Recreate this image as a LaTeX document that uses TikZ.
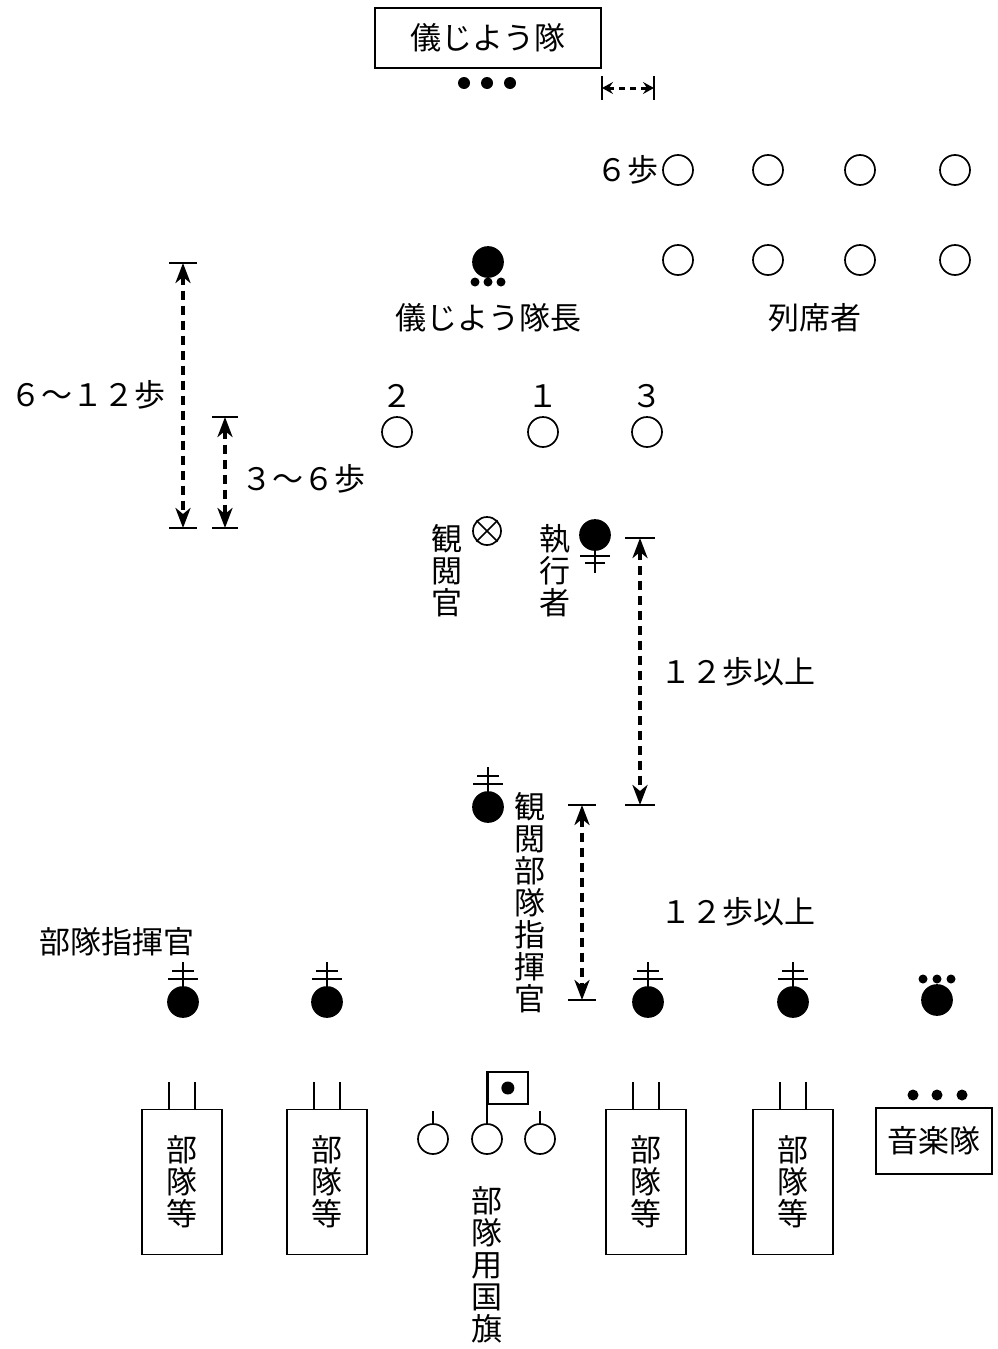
\documentclass[tikz,border=0pt]{standalone}
\usepackage{fontspec}
\setmainfont{Noto Sans CJK JP}
\usetikzlibrary{arrows.meta,positioning}
% commander mark: filled circle with a cross-bar stem on top
\newcommand\cmdmark[2]{%
  \node[leader] (#1) at (#2) {};
  \draw (#1.north) -- ++(0,-24);
  \draw ([shift={(-11,-31)}]#1.center) -- ([shift={(11,-31)}]#1.center);
  \draw ([shift={(-15,-23)}]#1.center) -- ([shift={(15,-23)}]#1.center);}
\begin{document}
\begin{tikzpicture}[x=1pt,y=-1pt,line width=1.7pt,node distance=92pt,
  font=\fontsize{31}{32}\selectfont]
\tikzstyle{person}=[circle,draw,minimum size=30pt,inner sep=0pt]
\tikzstyle{leader}=[person,fill]
\tikzstyle{dot}=[circle,fill,minimum size=12pt,inner sep=0pt]
\tikzstyle{sdot}=[circle,fill,minimum size=9pt,inner sep=0pt]
\tikzstyle{dim}=[line width=3.4pt,dash pattern=on 9pt off 6pt,
  {Stealth[length=20pt,width=15pt,inset=6pt]}-{Stealth[length=20pt,width=15pt,inset=6pt]}]
\tikzstyle{unit}=[draw,minimum width=80pt,minimum height=145pt,align=center,inner sep=0pt]
\tikzstyle{tate}=[align=center,inner sep=0pt]
\useasboundingbox (0,0) rectangle (997,1349);

% honor guard
\node[draw,minimum width=226pt,minimum height=60pt,inner sep=0pt] (guard) at (488,38) {儀じよう隊};
\node[dot] (gd1) at (464,83) {};
\node[dot] (gd2) at (487,83) {};
\node[dot] (gd3) at (510,83) {};
\coordinate (g1) at (602,88);
\coordinate (g2) at (654,88);
\draw ([yshift=12pt]g1) -- ([yshift=-12pt]g1);
\draw ([yshift=12pt]g2) -- ([yshift=-12pt]g2);
\draw[line width=3pt,dash pattern=on 6pt off 5pt,
  {Stealth[length=11pt,width=12pt,inset=4pt]}-{Stealth[length=11pt,width=12pt,inset=4pt]}] (g1) -- (g2);

% attendees
\node[person] (r1) at (678,170) {};
\node[person] (r2) [right of=r1,node distance=90pt] {};
\node[person] (r3) [right of=r2] {};
\node[person] (r4) [right of=r3,node distance=95pt] {};
\node[person] (s1) [below of=r1,node distance=90pt] {};
\node[person] (s2) [below of=r2,node distance=90pt] {};
\node[person] (s3) [below of=r3,node distance=90pt] {};
\node[person] (s4) [below of=r4,node distance=90pt] {};
\node[anchor=east,inner sep=3pt] (step6) at (r1.west) {６歩};
\node (attend) at (815,318) {列席者};

% guard commander
\node[leader] (chief) at (488,262) {};
\node[sdot] (cd1) at (475,282) {};
\node[sdot] (cd2) at (488,282) {};
\node[sdot] (cd3) at (501,282) {};
\node (chieflbl) at (488,318) {儀じよう隊長};

% numbered positions
\node[person] (c2) at (397,432) {};
\node[person] (c1) at (543,432) {};
\node[person] (c3) at (647,432) {};
\node[above=4pt of c2] (n2) {２};
\node[above=4pt of c1] (n1) {１};
\node[above=4pt of c3] (n3) {３};

% distances on the left
\coordinate (d1a) at (183,263);
\coordinate (d1b) at (183,528);
\draw ([xshift=-14pt]d1a) -- ([xshift=14pt]d1a);
\draw ([xshift=-14pt]d1b) -- ([xshift=14pt]d1b);
\draw[dim] (d1a) -- (d1b);
\node (l612) at (88,395) {６～１２歩};
\coordinate (d2a) at (225,417);
\coordinate (d2b) at (225,528);
\draw ([xshift=-13pt]d2a) -- ([xshift=13pt]d2a);
\draw ([xshift=-13pt]d2b) -- ([xshift=13pt]d2b);
\draw[dim] (d2a) -- (d2b);
\node (l36) at (303,479) {３～６歩};

% reviewing officer and executor
\node[person,minimum size=28pt] (rev) at (487,531) {};
\draw (rev.north west) -- (rev.south east);
\draw (rev.north east) -- (rev.south west);
\node[tate,anchor=north] (revlbl) at (447,524) {観\\閲\\官};
\node[leader] (exec) at (595,535) {};
\draw (exec.south) -- ++(0,22);
\draw ([shift={(-15,21)}]exec.center) -- ([shift={(15,21)}]exec.center);
\draw ([shift={(-10,28)}]exec.center) -- ([shift={(10,28)}]exec.center);
\node[tate,anchor=north] (execlbl) at (555,524) {執\\行\\者};

% 12 steps
\coordinate (d3a) at (640,538);
\coordinate (d3b) at (640,805);
\draw ([xshift=-15pt]d3a) -- ([xshift=15pt]d3a);
\draw ([xshift=-15pt]d3b) -- ([xshift=15pt]d3b);
\draw[dim] (d3a) -- (d3b);
\node (l12a) at (738,672) {１２歩以上};

% reviewed unit commander
\cmdmark{rcmd}{488,807}
\node[tate,anchor=north] (rcmdlbl) at (530,792) {観\\閲\\部\\隊\\指\\揮\\官};
\coordinate (d4a) at (582,805);
\coordinate (d4b) at (582,1000);
\draw ([xshift=-14pt]d4a) -- ([xshift=14pt]d4a);
\draw ([xshift=-14pt]d4b) -- ([xshift=14pt]d4b);
\draw[dim] (d4a) -- (d4b);
\node (l12b) at (738,912) {１２歩以上};

% unit commanders
\node (cmdlbl) at (117,942) {部隊指揮官};
\cmdmark{k1}{183,1002}
\cmdmark{k2}{327,1002}
\cmdmark{k3}{648,1002}
\cmdmark{k4}{793,1002}
\node[leader] (band0) at (937,1000) {};
\node[sdot] (bd1) at (923,979) {};
\node[sdot] (bd2) at (937,979) {};
\node[sdot] (bd3) at (951,979) {};

% units
\node[unit] (u1) at (182,1182) {部\\隊\\等};
\node[unit] (u2) at (327,1182) {部\\隊\\等};
\node[unit] (u3) at (646,1182) {部\\隊\\等};
\node[unit] (u4) at (793,1182) {部\\隊\\等};
\draw ([xshift=-13pt]u1.north) -- ++(0,-27);
\draw ([xshift=13pt]u1.north) -- ++(0,-27);
\draw ([xshift=-13pt]u2.north) -- ++(0,-27);
\draw ([xshift=13pt]u2.north) -- ++(0,-27);
\draw ([xshift=-13pt]u3.north) -- ++(0,-27);
\draw ([xshift=13pt]u3.north) -- ++(0,-27);
\draw ([xshift=-13pt]u4.north) -- ++(0,-27);
\draw ([xshift=13pt]u4.north) -- ++(0,-27);

% colour party
\node[person] (f1) at (433,1139) {};
\node[person] (f2) at (487,1139) {};
\node[person] (f3) at (540,1139) {};
\draw (f1.north) -- ++(0,-12);
\draw (f3.north) -- ++(0,-12);
\draw (f2.north) -- ++(0,-52) coordinate (pole);
\node[draw,minimum width=40pt,minimum height=32pt,anchor=north west,inner sep=0pt] (flag) at (pole) {};
\node[dot,minimum size=13pt] (sun) at (flag.center) {};
\node[tate,anchor=north] (flaglbl) at (487,1186) {部\\隊\\用\\国\\旗};

% band
\node[draw,minimum width=116pt,minimum height=66pt,inner sep=0pt] (band) at (934,1141) {音楽隊};
\node[dot,minimum size=11pt] (bt1) at (913,1095) {};
\node[dot,minimum size=11pt] (bt2) at (937,1095) {};
\node[dot,minimum size=11pt] (bt3) at (962,1095) {};
\end{tikzpicture}
\end{document}
